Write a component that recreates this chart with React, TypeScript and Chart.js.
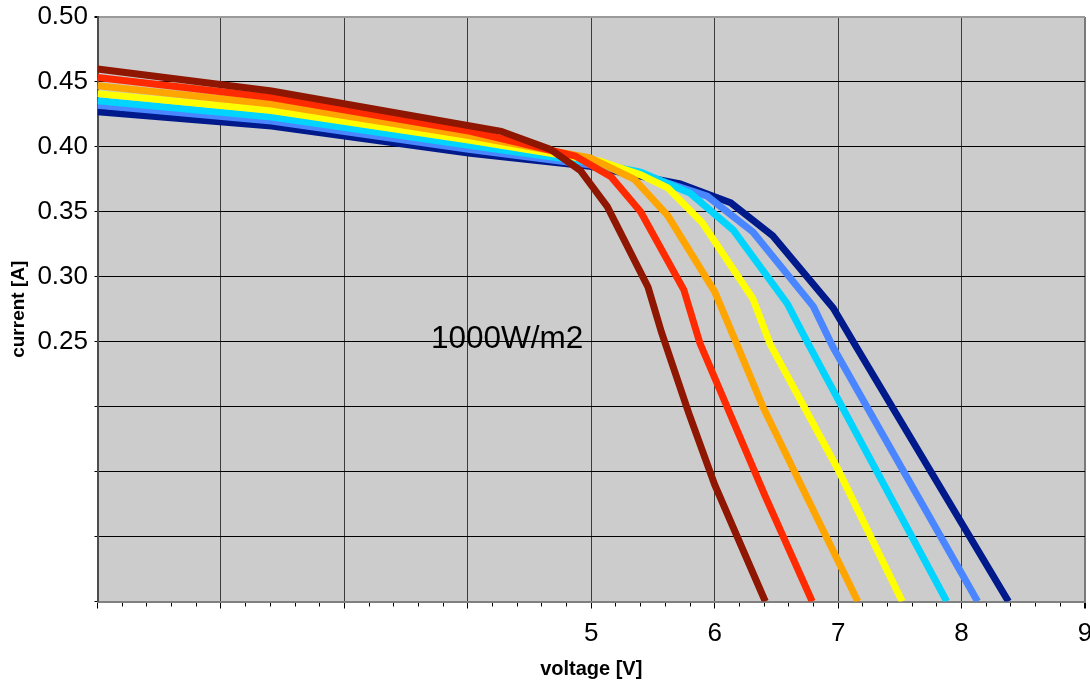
import React, { useEffect, useRef } from 'react';
import { Chart, registerables } from 'chart.js';

Chart.register(...registerables);

// ---- data ----
const seriesLabels = ['curve 1', 'curve 2', 'curve 3', 'curve 4', 'curve 5', 'curve 6', 'curve 7'];
const seriesColors = ['#8f1600', '#ff2a00', '#ffa500', '#ffff00', '#00d4ff', '#4a86ff', '#001a8c'];

const voltDarkRed = [1.0, 2.41, 4.27, 4.67, 4.91, 5.13, 5.46, 5.57, 5.79, 6.0, 6.41];
const currDarkRed = [0.46, 0.443, 0.412, 0.398, 0.382, 0.354, 0.292, 0.257, 0.195, 0.14, 0.05];

const voltRed = [1.0, 2.41, 4.02, 4.87, 5.16, 5.4, 5.75, 5.88, 6.41, 6.79];
const currRed = [0.4535, 0.438, 0.412, 0.393, 0.377, 0.35, 0.29, 0.249, 0.131, 0.05];

const voltOrange = [1.0, 2.41, 4.02, 4.99, 5.35, 5.62, 6.0, 6.18, 6.39, 7.16];
const currOrange = [0.447, 0.433, 0.4085, 0.3915, 0.375, 0.347, 0.2885, 0.248, 0.2, 0.05];

const voltYellow = [1.0, 2.41, 4.02, 5.07, 5.4, 5.62, 5.9, 6.31, 6.45, 7.0, 7.52];
const currYellow = [0.441, 0.428, 0.405, 0.389, 0.3785, 0.3685, 0.3415, 0.283, 0.248, 0.1515, 0.05];

const voltCyan = [1.0, 2.41, 4.02, 5.0, 5.4, 5.8, 6.15, 6.59, 6.76, 7.88];
const currCyan = [0.4355, 0.423, 0.401, 0.388, 0.3805, 0.3645, 0.336, 0.279, 0.248, 0.05];

const voltBlue = [1.0, 2.41, 4.02, 5.0, 5.4, 5.94, 6.31, 6.8, 6.96, 8.13];
const currBlue = [0.432, 0.42, 0.398, 0.386, 0.379, 0.362, 0.3345, 0.277, 0.2455, 0.05];

const voltNavy = [1.0, 2.41, 4.02, 4.99, 5.72, 6.13, 6.47, 6.96, 7.15, 8.38];
const currNavy = [0.427, 0.416, 0.395, 0.385, 0.3715, 0.357, 0.3315, 0.276, 0.2455, 0.05];

const seriesVolts = [voltDarkRed, voltRed, voltOrange, voltYellow, voltCyan, voltBlue, voltNavy];
const seriesCurrents = [currDarkRed, currRed, currOrange, currYellow, currCyan, currBlue, currNavy];

const xMin = 1;
const xMax = 9;
const xStep = 1;
const xMinorStep = 0.2;
const xFirstLabel = 5;
const yMin = 0.05;
const yMax = 0.5;
const yStep = 0.05;
const yFirstLabel = 0.25;

const xTitle = 'voltage [V]';
const yTitle = 'current [A]';
const noteText = '1000W/m2';
const noteVolt = 4.318;
const noteCurr = 0.2515;

const FONT = '"Liberation Sans", Arial, Helvetica, sans-serif';

const plotBackground = {
  id: 'plotBackground',
  beforeDraw(chart: any) {
    const { ctx, chartArea } = chart;
    if (!chartArea) return;
    ctx.save();
    ctx.fillStyle = '#cccccc';
    ctx.fillRect(chartArea.left, chartArea.top, chartArea.right - chartArea.left, chartArea.bottom - chartArea.top);
    ctx.restore();
  },
};

const noteLabel = {
  id: 'noteLabel',
  afterDatasetsDraw(chart: any) {
    const { ctx, scales } = chart;
    ctx.save();
    ctx.font = `31.5px ${FONT}`;
    ctx.fillStyle = '#000';
    ctx.textAlign = 'center';
    ctx.textBaseline = 'middle';
    ctx.fillText(noteText, scales.x.getPixelForValue(noteVolt), scales.y.getPixelForValue(noteCurr));
    ctx.restore();
  },
};

export default function App() {
  const ref = useRef<HTMLCanvasElement>(null);

  useEffect(() => {
    const canvas = ref.current;
    if (!canvas) return;
    const datasets = seriesLabels.map((label, i) => ({
      label,
      data: seriesVolts[i].map((v, k) => ({ x: v, y: seriesCurrents[i][k] })),
      borderColor: seriesColors[i],
      backgroundColor: seriesColors[i],
      borderWidth: 7,
      pointRadius: 0,
      tension: 0,
      fill: false,
    }));

    const chart = new Chart(canvas, {
      type: 'line',
      data: { datasets },
      options: {
        animation: false,
        responsive: false,
        events: [],
        layout: { padding: { left: 0, right: 5, top: 17, bottom: 0 } },
        plugins: {
          legend: { display: false },
          tooltip: { enabled: false },
          title: { display: false },
        },
        scales: {
          xMinor: {
            type: 'linear',
            position: 'bottom',
            weight: 0,
            min: xMin,
            max: xMax,
            ticks: { display: false, stepSize: xMinorStep, maxTicksLimit: 100, autoSkip: false },
            grid: { drawOnChartArea: false, drawTicks: true, tickLength: 5, color: '#000', tickColor: '#000', lineWidth: 1 },
            border: { display: false },
            afterFit: (s: any) => {
              s.height = 0;
              s.paddingLeft = 0;
              s.paddingRight = 0;
            },
          },
          x: {
            type: 'linear',
            position: 'bottom',
            weight: 1,
            min: xMin,
            max: xMax,
            ticks: {
              stepSize: xStep,
              autoSkip: false,
              maxRotation: 0,
              padding: 10,
              color: '#000',
              font: { family: FONT, size: 26 },
              callback: (v: any) => (Number(v) >= xFirstLabel ? String(v) : ''),
            },
            grid: {
              color: (c: any) => (c.tick && c.tick.value >= xMax ? '#7a7a7a' : '#3c3c3c'),
              lineWidth: (c: any) => (c.tick && c.tick.value >= xMax ? 2 : 1),
              tickColor: '#000',
              tickLength: 7,
              drawTicks: true,
            },
            border: { display: true, color: '#808080', width: 2 },
            title: {
              display: true,
              text: xTitle,
              color: '#000',
              font: { family: FONT, size: 20, weight: 'bold' },
              padding: { top: 0, bottom: 3 },
            },
            afterFit: (s: any) => {
              s.height = 82.5;
              s.paddingLeft = 0;
              s.paddingRight = 0;
            },
          },
          y: {
            type: 'linear',
            position: 'left',
            min: yMin,
            max: yMax,
            ticks: {
              stepSize: yStep,
              padding: 6.5,
              color: '#000',
              font: { family: FONT, size: 26 },
              callback: (v: any) => (Number(v) >= yFirstLabel - 1e-6 ? Number(v).toFixed(2) : ''),
            },
            grid: {
              color: (c: any) => {
                const v = c.tick ? c.tick.value : 0;
                if (v >= yMax - 1e-6) return '#9a9a9a';
                if (v <= yMin + 1e-6) return '#808080';
                return '#000';
              },
              lineWidth: (c: any) => {
                const v = c.tick ? c.tick.value : 0;
                return v >= yMax - 1e-6 ? 2 : 1;
              },
              tickColor: '#000',
              tickLength: 3,
              drawTicks: true,
            },
            border: { display: true, color: '#4d4d4d', width: 2 },
            title: {
              display: true,
              text: yTitle,
              color: '#000',
              font: { family: FONT, size: 19, weight: 'bold' },
              padding: { top: 7, bottom: 0 },
            },
            afterFit: (s: any) => {
              s.width = 97.5;
              s.paddingTop = 0;
              s.paddingBottom = 0;
            },
          },
        },
      } as any,
      plugins: [plotBackground, noteLabel],
    });
    return () => chart.destroy();
  }, []);

  return (
    <div style={{ position: 'absolute', left: 0, top: 0, width: 1090, height: 684, background: '#fff' }}>
      <canvas ref={ref} width={1090} height={684} style={{ display: 'block', width: 1090, height: 684 }} />
    </div>
  );
}
